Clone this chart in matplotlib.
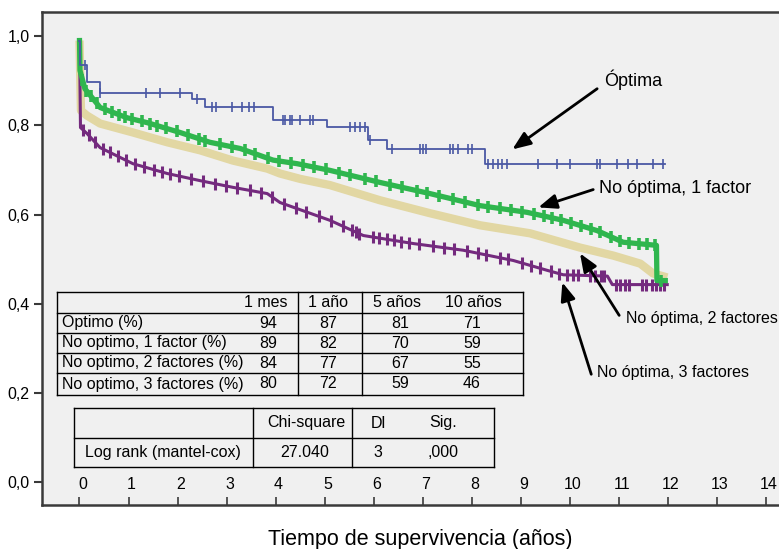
import numpy as np
import matplotlib.pyplot as plt
from matplotlib.lines import Line2D
from matplotlib.transforms import ScaledTranslation

plt.rcParams['font.family'] = ['Liberation Sans', 'DejaVu Sans']

# --- curves (years, survival) ---
# Optima: Kaplan-Meier step curve
opt_t = [0, 0.02, 0.15, 0.42, 2.30, 2.56, 3.95, 5.05, 5.89, 6.28, 8.28, 11.94]
opt_s = [0.99, 0.936, 0.898, 0.872, 0.858, 0.842, 0.813, 0.796, 0.768, 0.748, 0.714, 0.714]
opt_cens = [0.12, 0.42, 1.36, 1.64, 2.05, 2.40, 2.70, 2.78, 3.11, 3.32, 3.46, 3.56,
            4.15, 4.19, 4.30, 4.34, 4.49, 4.70, 4.77, 5.52, 5.62, 5.72, 5.83, 5.93,
            6.38, 6.95, 7.01, 7.07, 7.56, 7.62, 7.73, 7.93, 8.01, 8.34, 8.44, 8.54,
            8.62, 8.72, 9.36, 9.75, 10.01, 10.56, 10.62, 10.97, 11.19, 11.38, 11.69, 11.91]

# No optima, 1 factor
f1_t = [0, 0.01, 0.11, 0.42, 0.97, 1.38, 2.05, 2.66, 3.28, 3.95, 4.44, 5.11, 6.13,
        7.15, 8.17, 9.13, 9.87, 10.56, 11.09, 11.77, 11.78, 11.95]
f1_s = [0.99, 0.923, 0.882, 0.840, 0.817, 0.806, 0.784, 0.762, 0.748, 0.722, 0.714,
        0.699, 0.672, 0.647, 0.620, 0.605, 0.587, 0.564, 0.538, 0.531, 0.452, 0.452]
f1_cens = [0.06, 0.14, 0.23, 0.35, 0.52, 0.66, 0.81, 0.93, 1.08, 1.27, 1.44, 1.58,
           1.77, 1.98, 2.21, 2.43, 2.57, 2.86, 3.12, 3.37, 3.58, 3.84, 4.07, 4.32,
           4.56, 4.78, 5.02, 5.29, 5.51, 5.83, 6.04, 6.34, 6.57, 6.88, 7.09, 7.34,
           7.62, 7.87, 8.12, 8.33, 8.58, 8.81, 9.02, 9.28, 9.47, 9.63, 9.82, 10.03,
           10.24, 10.43, 10.62, 10.84, 11.03, 11.22, 11.41, 11.58, 11.74, 11.86]

# No optima, 2 factores
f2_t = [0, 0.03, 0.15, 0.42, 1.09, 1.79, 2.46, 3.13, 3.83, 4.09, 4.5, 5.11, 6.13,
        7.15, 8.17, 9.19, 10.21, 10.89, 11.44, 11.7, 11.99]
f2_s = [0.99, 0.833, 0.822, 0.804, 0.784, 0.762, 0.744, 0.721, 0.703, 0.692, 0.680,
        0.666, 0.632, 0.603, 0.576, 0.558, 0.526, 0.508, 0.490, 0.468, 0.459]

# No optima, 3 factores
f3_t = [0, 0.02, 0.15, 0.42, 1.09, 1.79, 2.46, 3.13, 3.83, 4.09, 5.11, 5.79, 6.81,
        7.83, 8.85, 9.54, 9.87, 10.77, 10.87, 11.99]
f3_s = [0.99, 0.795, 0.782, 0.750, 0.714, 0.692, 0.676, 0.661, 0.647, 0.627, 0.587,
        0.553, 0.535, 0.520, 0.497, 0.475, 0.465, 0.462, 0.443, 0.443]
f3_cens = [0.08, 0.19, 0.31, 0.47, 0.62, 0.78, 0.95, 1.13, 1.31, 1.52, 1.69, 1.84,
           2.02, 2.27, 2.51, 2.76, 2.98, 3.22, 3.47, 3.71, 3.93, 4.18, 4.41, 4.63,
           4.88, 5.14, 5.38, 5.55, 5.64, 5.71, 5.98, 6.12, 6.27, 6.41, 6.55, 6.72,
           6.93, 7.21, 7.44, 7.63, 7.91, 8.12, 8.30, 8.57, 8.74, 9.03, 9.21, 9.40,
           9.62, 9.79, 9.95, 10.06, 10.16, 10.41, 10.52, 10.63, 10.71, 10.95, 11.03,
           11.12, 11.20, 11.47, 11.56, 11.68, 11.76, 11.84, 11.93]

# --- tables ---
tab1_head = ['1 mes', '1 año', '5 años', '10 años']
tab1_rows = ['Optimo (%)', 'No optimo, 1 factor (%)', 'No optimo, 2 factores (%)',
             'No optimo, 3 factores (%)']
tab1_vals = [[94, 87, 81, 71], [89, 82, 70, 59], [84, 77, 67, 55], [80, 72, 59, 46]]
tab2_head = ['Chi-square', 'Dl', 'Sig.']
tab2_row = ['Log rank (mantel-cox)', '27.040', '3', ',000']

xticks = list(range(0, 15))
yticks = [0.0, 0.2, 0.4, 0.6, 0.8, 1.0]
ytick_labels = ['0,0', '0,2', '0,4', '0,6', '0,8', '1,0']

c_opt = '#4a58a4'
c_f1 = '#2fb64e'
c_f2 = '#e2d7a3'
c_f3 = '#742a7e'

W, H = 779, 549
fig = plt.figure(figsize=(W / 100, H / 100), dpi=100)
fig.patch.set_facecolor('white')
ax = fig.add_axes([42 / W, 44 / H, 1 - 42 / W, (505 - 12) / H])
ax.set_facecolor('#f0f0f0')
ax.set_xlim(-0.765, 14.27)
ax.set_ylim(-0.051, 1.054)

# curves
ax.plot(f2_t, f2_s, color=c_f2, lw=6, solid_capstyle='butt', zorder=2)
ax.plot(f3_t, f3_s, color=c_f3, lw=2.2, zorder=3)
ax.plot(f3_cens, np.interp(f3_cens, f3_t, f3_s), ls='none', marker='|',
        ms=8, mew=2.2, color=c_f3, zorder=3)
ax.plot(f1_t, f1_s, color=c_f1, lw=3.8, zorder=4)
ax.plot(f1_cens, np.interp(f1_cens, f1_t, f1_s), ls='none', marker='|',
        ms=9, mew=2.6, color=c_f1, zorder=4)
ax.step(opt_t, opt_s, where='post', color=c_opt, lw=1.3, zorder=5)
idx = np.searchsorted(opt_t, opt_cens, side='right') - 1
ax.plot(opt_cens, np.array(opt_s)[idx], ls='none', marker='|', ms=7, mew=1.2,
        color=c_opt, zorder=5)

# axes styling
for side in ['left', 'top', 'bottom']:
    ax.spines[side].set_color('#3a3a3a')
    ax.spines[side].set_linewidth(1.8)
ax.spines['right'].set_visible(False)
ax.set_yticks(yticks)
ax.set_yticklabels(ytick_labels)
ax.set_xticks(xticks)
ax.tick_params(axis='y', direction='out', length=6, width=1.5, color='#3a3a3a',
               labelsize=11.5, pad=3)
ax.tick_params(axis='x', direction='in', length=6, width=1.2, color='#3a3a3a',
               labelsize=11.5, pad=-20)
for lab in ax.get_xticklabels():
    lab.set_transform(lab.get_transform() + ScaledTranslation(0.03, 0, fig.dpi_scale_trans))

fig.text(420 / W, 1 - 540 / H, 'Tiempo de supervivencia (años)', fontsize=15.5,
         ha='center', va='center')

# annotations with arrows (data coords)
arrows = [
    ('Óptima', (8.83, 0.746), (10.56, 0.882), (10.70, 0.903), 13),
    ('No óptima, 1 factor', (9.36, 0.616), (10.48, 0.656), (10.60, 0.658), 13),
    ('No óptima, 2 factores', (10.21, 0.513), (11.01, 0.374), (11.15, 0.367), 11.5),
    ('No óptima, 3 factores', (9.85, 0.448), (10.44, 0.242), (10.56, 0.246), 11.5),
]
for label, head, tail, tpos, fs in arrows:
    ax.annotate('', xy=head, xytext=tail,
                arrowprops=dict(arrowstyle='-|>,head_length=0.55,head_width=0.22',
                                mutation_scale=20, lw=2, color='black',
                                shrinkA=0, shrinkB=0), zorder=6)
    ax.text(tpos[0], tpos[1], label, fontsize=fs, ha='left', va='center', zorder=6)


def fx(x):
    return x / W


def fy(y):
    return 1 - y / H


def hline(x0, x1, y):
    fig.add_artist(Line2D([fx(x0), fx(x1)], [fy(y), fy(y)], color='black', lw=1.0))


def vline(x, y0, y1):
    fig.add_artist(Line2D([fx(x), fx(x)], [fy(y0), fy(y1)], color='black', lw=1.0))


tfs = 11.5
# table 1
t1_x0, t1_x1 = 57, 523
t1_rows_y = [292, 313, 333, 353, 373, 395]
for y in t1_rows_y:
    hline(t1_x0, t1_x1, y)
for x in [t1_x0, 298, 362, t1_x1]:
    vline(x, t1_rows_y[0], t1_rows_y[-1])
hy = (t1_rows_y[0] + t1_rows_y[1]) / 2
fig.text(fx(288), fy(hy), tab1_head[0], fontsize=tfs, ha='right', va='center')
head_x = [328, 397, 473]
for x, h in zip(head_x, tab1_head[1:]):
    fig.text(fx(x), fy(hy), h, fontsize=tfs, ha='center', va='center')
val_x = [268, 328, 400, 472]
for i, (name, vals) in enumerate(zip(tab1_rows, tab1_vals)):
    ry = (t1_rows_y[i + 1] + t1_rows_y[i + 2]) / 2
    fig.text(fx(62), fy(ry), name, fontsize=tfs, ha='left', va='center')
    for x, v in zip(val_x, vals):
        fig.text(fx(x), fy(ry), str(v), fontsize=tfs, ha='center', va='center')

# table 2
t2_x0, t2_x1 = 74, 494
t2_rows_y = [408, 438, 467]
for y in t2_rows_y:
    hline(t2_x0, t2_x1, y)
for x in [t2_x0, 253, 352, t2_x1]:
    vline(x, t2_rows_y[0], t2_rows_y[-1])
h2y = (t2_rows_y[0] + t2_rows_y[1]) / 2
r2y = (t2_rows_y[1] + t2_rows_y[2]) / 2
for x, h in zip([306, 378, 443], tab2_head):
    fig.text(fx(x), fy(h2y), h, fontsize=tfs, ha='center', va='center')
for x, v in zip([163, 305, 378, 443], tab2_row):
    fig.text(fx(x), fy(r2y), v, fontsize=tfs, ha='center', va='center')

fig.savefig('out.png', dpi=100, facecolor='white')
